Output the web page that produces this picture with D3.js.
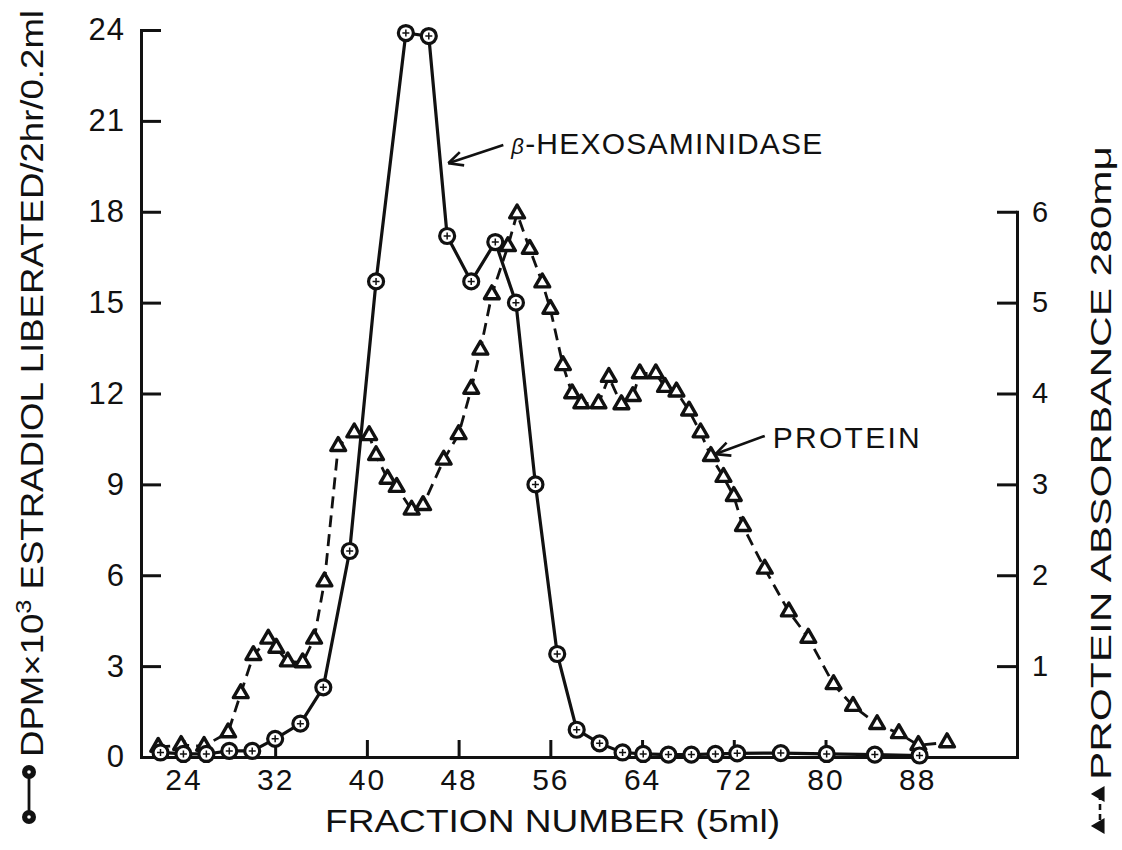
<!DOCTYPE html>
<html>
<head>
<meta charset="utf-8">
<script src="https://cdn.jsdelivr.net/npm/d3@7"></script>
<style>
  body { margin: 0; background: #fff; }
  text { font-family: "Liberation Sans", "DejaVu Sans", sans-serif; fill: #111; }
  .axis path, .axis line { stroke: #111; stroke-width: 3; }
</style>
</head>
<body>
<div id="chart"></div>
<script>
// 1: DATA
// beta-hexosaminidase, DPM x 10^3 (left axis)
const hexFraction = [22, 24, 26, 28, 30, 32, 34.2, 36.2, 38.5, 40.8, 43.4, 45.4, 47.0, 49.1,
  51.2, 53.0, 54.7, 56.6, 58.3, 60.3, 62.3, 64.1, 66.3, 68.3, 70.4, 72.3, 76.1, 80.1, 84.3, 88.2];
const hexDPM = [0.15, 0.1, 0.1, 0.2, 0.2, 0.6, 1.1, 2.3, 6.8, 15.7, 23.9, 23.8, 17.2, 15.7,
  17.0, 15.0, 9.0, 3.4, 0.9, 0.45, 0.15, 0.1, 0.08, 0.08, 0.1, 0.12, 0.13, 0.1, 0.08, 0.05];

// protein, absorbance at 280 mu (right axis)
const protFraction = [21.8, 23.8, 25.8, 27.9, 29.0, 30.1, 31.4, 32.1, 33.1, 34.4, 35.4, 36.3,
  37.5, 38.9, 40.2, 40.8, 41.8, 42.6, 43.9, 44.9, 46.7, 48.0, 49.1, 49.9, 50.9, 52.3, 53.1,
  54.2, 55.3, 56.0, 57.1, 57.9, 58.7, 60.2, 61.1, 62.2, 63.2, 63.8, 65.2, 66.0, 67.0, 68.1,
  69.1, 70.0, 71.1, 72.0, 72.8, 74.7, 76.8, 78.5, 80.7, 82.4, 84.5, 86.4, 88.1, 90.6];
const protAbs = [0.11, 0.13, 0.12, 0.27, 0.70, 1.12, 1.30, 1.20, 1.05, 1.04, 1.30, 1.93,
  3.42, 3.57, 3.54, 3.32, 3.06, 2.97, 2.72, 2.77, 3.27, 3.55, 4.05, 4.48, 5.09, 5.62, 5.98,
  5.59, 5.22, 4.93, 4.31, 4.00, 3.89, 3.89, 4.18, 3.88, 3.97, 4.22, 4.22, 4.07, 4.02, 3.81,
  3.57, 3.31, 3.08, 2.87, 2.54, 2.07, 1.60, 1.31, 0.80, 0.56, 0.36, 0.26, 0.13, 0.16];

// tick labels
const xTicks = [24, 32, 40, 48, 56, 64, 72, 80, 88];
const leftTicks = [0, 3, 6, 9, 12, 15, 18, 21, 24];
const rightTicks = [1, 2, 3, 4, 5, 6];

// arrow labels, in data units (fraction, left-axis value)
const noteLabels = ["HEXOSAMINIDASE", "PROTEIN"];
const noteTip = [[47.1, 19.6], [70.4, 10.0]];
const noteTail = [[51.9, 20.2], [74.7, 10.6]];
const noteText = [[52.6, 19.9], [75.4, 10.2]];

// 2: LAYOUT
const W = 1122, H = 850;
const svg = d3.select("#chart").append("svg")
  .attr("width", W).attr("height", H)
  .style("background", "#fff");

const x = d3.scaleLinear().domain([20.3, 96.7]).range([141, 1017]);
const y = d3.scaleLinear().domain([0, 24]).range([757, 30]);
// right axis: 0..6 absorbance shares the pixels of 0..18 on the left
const yR = d3.scaleLinear().domain([0, 6]).range([y(0), y(18)]);

const hexData = hexFraction.map((f, i) => ({ f: f, v: hexDPM[i] }));
const protData = protFraction.map((f, i) => ({ f: f, p: protAbs[i] }));

// 3: AXES
const xAxis = svg.append("g").attr("class", "axis")
  .attr("transform", `translate(0,${y(0)})`)
  .call(d3.axisBottom(x).tickValues(xTicks).tickSizeInner(-17).tickSizeOuter(0).tickPadding(12));
xAxis.selectAll("text").style("font-size", "30px").attr("letter-spacing", 2);

const yAxis = svg.append("g").attr("class", "axis")
  .attr("transform", `translate(${x.range()[0]},0)`)
  .call(d3.axisLeft(y).tickValues(leftTicks).tickSizeInner(-20).tickSizeOuter(0).tickPadding(16));
yAxis.selectAll("text").style("font-size", "31px").attr("letter-spacing", 1);

const rAxis = svg.append("g").attr("class", "axis")
  .attr("transform", `translate(${x.range()[1]},0)`)
  .call(d3.axisRight(yR).tickValues(rightTicks).tickFormat(d3.format("d"))
    .tickSizeInner(-20).tickSizeOuter(0).tickPadding(15));
rAxis.selectAll("text").style("font-size", "29px");

svg.selectAll(".axis path").attr("stroke-linecap", "square");

// 4: LINES
const protLine = d3.line().x(d => x(d.f)).y(d => yR(d.p));
const hexLine = d3.line().x(d => x(d.f)).y(d => y(d.v));

svg.append("path")
  .datum(protData)
  .attr("d", protLine)
  .attr("fill", "none")
  .attr("stroke", "#111")
  .attr("stroke-width", 2.8)
  .attr("stroke-dasharray", "12,7");

svg.append("path")
  .datum(hexData)
  .attr("d", hexLine)
  .attr("fill", "none")
  .attr("stroke", "#111")
  .attr("stroke-width", 3.2);

// 5: MARKERS
const tri = d3.symbol(d3.symbolTriangle, 95);
svg.selectAll(".tri")
  .data(protData)
  .enter().append("path")
  .attr("class", "tri")
  .attr("d", tri)
  .attr("transform", d => `translate(${x(d.f)},${yR(d.p)})`)
  .attr("fill", "#fff")
  .attr("stroke", "#111")
  .attr("stroke-width", 3.4)
  .attr("stroke-linejoin", "round");

const dots = svg.selectAll(".dot")
  .data(hexData)
  .enter().append("g")
  .attr("class", "dot")
  .attr("transform", d => `translate(${x(d.f)},${y(d.v)})`);
dots.append("circle").attr("r", 7.5)
  .attr("fill", "#fff").attr("stroke", "#111").attr("stroke-width", 3.2);
dots.append("path").attr("d", "M-3.5,0H3.5M0,-3.5V3.5")
  .attr("stroke", "#111").attr("stroke-width", 1.5);

// 6: ARROW LABELS
function arrow(tail, tip) {
  const x1 = x(tail[0]), y1 = y(tail[1]), x2 = x(tip[0]), y2 = y(tip[1]);
  const a = Math.atan2(y1 - y2, x1 - x2);
  const g = svg.append("g").attr("stroke", "#111").attr("stroke-width", 2.6).attr("fill", "none");
  g.append("line").attr("x1", x1).attr("y1", y1).attr("x2", x2).attr("y2", y2);
  [0.45, -0.45].forEach(s => {
    g.append("line").attr("x1", x2).attr("y1", y2)
      .attr("x2", x2 + 16 * Math.cos(a + s)).attr("y2", y2 + 16 * Math.sin(a + s));
  });
}
noteLabels.forEach((n, i) => arrow(noteTail[i], noteTip[i]));

const hexLabel = svg.append("text")
  .attr("x", x(noteText[0][0])).attr("y", y(noteText[0][1]))
  .attr("textLength", 311).attr("lengthAdjust", "spacing")
  .style("font-size", "30px");
hexLabel.append("tspan").text("β").style("font-size", "22px").style("font-style", "italic");
hexLabel.append("tspan").text("-" + noteLabels[0]);

svg.append("text")
  .attr("x", x(noteText[1][0])).attr("y", y(noteText[1][1]))
  .attr("textLength", 147).attr("lengthAdjust", "spacing")
  .style("font-size", "30px")
  .text(noteLabels[1]);

// 7: AXIS TITLES
svg.append("text")
  .attr("x", (325 + 780) / 2).attr("y", 832)
  .attr("text-anchor", "middle")
  .attr("textLength", 455).attr("lengthAdjust", "spacingAndGlyphs")
  .style("font-size", "32px")
  .text("FRACTION NUMBER (5ml)");

// left title with its circle-line-circle key
const leftTitle = svg.append("text")
  .attr("transform", "translate(43,757) rotate(-90)")
  .attr("textLength", 747).attr("lengthAdjust", "spacingAndGlyphs")
  .style("font-size", "32px");
leftTitle.append("tspan").text("DPM×10");
leftTitle.append("tspan").text("3").attr("dy", -12).style("font-size", "22px");
leftTitle.append("tspan").text(" ESTRADIOL LIBERATED/2hr/0.2ml").attr("dy", 12);

const leftKey = svg.append("g");
leftKey.append("line").attr("x1", 29).attr("x2", 29).attr("y1", 772).attr("y2", 817)
  .attr("stroke", "#111").attr("stroke-width", 2.8);
[772, 817].forEach(cy => {
  leftKey.append("circle").attr("cx", 29).attr("cy", cy).attr("r", 7).attr("fill", "#111");
  leftKey.append("circle").attr("cx", 29).attr("cy", cy).attr("r", 1.8).attr("fill", "#fff");
});

// right title with its triangle-dash-triangle key
svg.append("text")
  .attr("transform", "translate(1111,780) rotate(-90)")
  .attr("textLength", 634).attr("lengthAdjust", "spacingAndGlyphs")
  .style("font-size", "29px")
  .text("PROTEIN ABSORBANCE 280mμ");

const rightKey = svg.append("g");
rightKey.append("line").attr("x1", 1100).attr("x2", 1100).attr("y1", 794).attr("y2", 826)
  .attr("stroke", "#111").attr("stroke-width", 2.6).attr("stroke-dasharray", "6,4");
[794, 826].forEach(cy => {
  rightKey.append("path").attr("d", d3.symbol(d3.symbolTriangle, 75))
    .attr("transform", `translate(1100,${cy}) rotate(-90)`)
    .attr("fill", "#111").attr("stroke", "#111").attr("stroke-width", 1.5);
});
</script>
</body>
</html>
